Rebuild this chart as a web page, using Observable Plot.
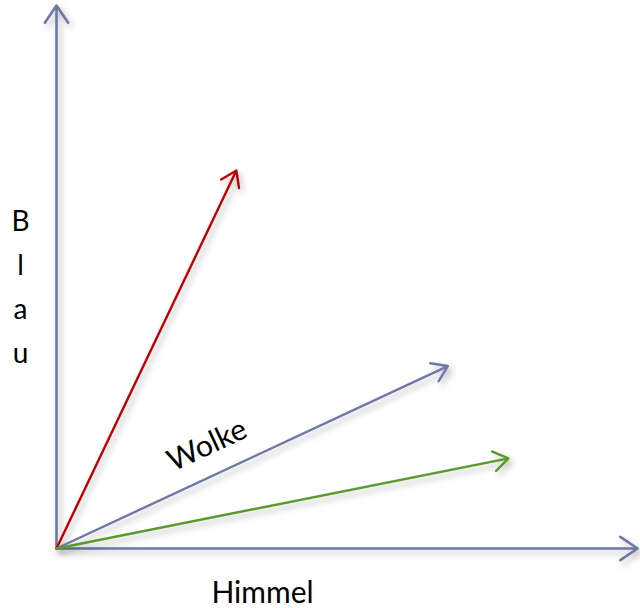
<!DOCTYPE html>
<html>
<head>
<meta charset="utf-8">
<script src="https://cdn.jsdelivr.net/npm/d3@7"></script>
<script src="https://cdn.jsdelivr.net/npm/@observablehq/plot@0.6"></script>
<style>
  html, body { margin: 0; padding: 0; background: #fff; }
  #chart svg { display: block; }
</style>
</head>
<body>
<div id="chart"></div>
<script>
// Vectors drawn from the origin (arbitrary units)
const vectorNames = ["Rot", "Wolke", "Grün"];
const vectorX = [3.08, 6.70, 7.74];
const vectorY = [6.96, 3.36, 1.66];
const vectorColors = ["#c00000", "#6e78a6", "#5a9a2a"];

// Axes (as arrows)
const axisNames = ["Himmel", "Blau"];
const axisX = [9.95, 0];
const axisY = [0, 10.0];

const xLabel = "Himmel";
const yLabel = "Blau";
const vectorLabel = "Wolke";

const axes = axisNames.map((n, i) => ({name: n, x1: 0, y1: 0, x2: axisX[i], y2: axisY[i]}));
const vectors = vectorNames.map((n, i) => ({name: n, x1: 0, y1: 0, x2: vectorX[i], y2: vectorY[i], color: vectorColors[i]}));

const font = "Lato, 'Open Sans', sans-serif";

const chart = Plot.plot({
  width: 640,
  height: 608,
  margin: 0,
  x: {domain: [0, 10], range: [56, 640], axis: null},
  y: {domain: [0, 10], range: [548, 5], axis: null},
  style: {fontFamily: font, background: "#fff"},
  marks: [
    Plot.arrow(axes, {x1: "x1", y1: "y1", x2: "x2", y2: "y2", stroke: "#6e78a6", strokeWidth: 2.6, headLength: 12, headAngle: 68}),
    Plot.arrow(vectors, {x1: "x1", y1: "y1", x2: "x2", y2: "y2", stroke: d => d.color, strokeWidth: 2.4, headLength: 11, headAngle: 68}),
    Plot.text([vectorLabel], {x: 2.58, y: 1.90, text: d => d, rotate: -25, fontSize: 30, fill: "#000", textAnchor: "middle", lineAnchor: "middle"}),
    Plot.text([xLabel], {frameAnchor: "bottom-left", dx: 262, dy: -15, text: d => d, fontSize: 30, fill: "#000", textAnchor: "middle", lineAnchor: "middle"}),
    Plot.text([yLabel.split("").join("\n")], {frameAnchor: "left", dx: 20, dy: -22, text: d => d, fontSize: 28, lineHeight: 1.57, fill: "#000", textAnchor: "middle", lineAnchor: "middle"})
  ]
});
document.getElementById("chart").appendChild(chart);
d3.select(chart).selectAll("g[aria-label='arrow']").style("filter", "drop-shadow(3px 4px 3px rgba(0,0,0,0.28))");
</script>
</body>
</html>
